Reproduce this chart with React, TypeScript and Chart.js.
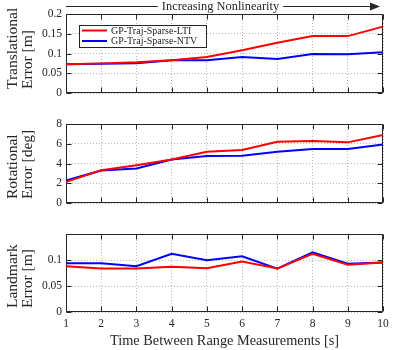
import React, { useEffect, useRef } from 'react';
import { Chart, registerables } from 'chart.js';

Chart.register(...registerables);

// ---------------- data ----------------
const xLabels = ['1', '2', '3', '4', '5', '6', '7', '8', '9', '10'];
const seriesNames = ['GP-Traj-Sparse-LTI', 'GP-Traj-Sparse-NTV'];
const seriesColors = ['#ff0000', '#0000ff'];

const transLTI = [0.073, 0.075, 0.078, 0.083, 0.091, 0.108, 0.127, 0.144, 0.144, 0.168];
const transNTV = [0.073, 0.074, 0.075, 0.083, 0.083, 0.091, 0.086, 0.099, 0.098, 0.103];

const rotLTI = [2.14, 3.32, 3.83, 4.4, 5.19, 5.36, 6.2, 6.27, 6.14, 6.88];
const rotNTV = [2.27, 3.29, 3.49, 4.4, 4.75, 4.78, 5.19, 5.46, 5.46, 5.93];

const lmLTI = [0.088, 0.0835, 0.0835, 0.087, 0.084, 0.097, 0.0835, 0.112, 0.091, 0.095];
const lmNTV = [0.0936, 0.0936, 0.088, 0.112, 0.0994, 0.107, 0.0835, 0.1146, 0.093, 0.095];

const transTitle = ['Translational', 'Error [m]'];
const rotTitle = ['Rotational', 'Error [deg]'];
const lmTitle = ['Landmark', 'Error [m]'];
const xTitleText = 'Time Between Range Measurements [s]';
const annotationText = 'Increasing Nonlinearity';

// ---------------- style ----------------
const FONT = "'Liberation Serif', 'Times New Roman', serif";
const INK = '#262626';
const GRID = '#b8b8b8';
const PLOT_LEFT = 66;
const PLOT_RIGHT = 383;
const W = 399;

type PanelSpec = {
  top: number;
  height: number;
  plotTop: number;
  plotHeight: number;
  lti: number[];
  ntv: number[];
  yMax: number;
  yStep: number;
  hideTopTick?: boolean;
  yTitle: string[];
  showXTicks: boolean;
  xTitle?: string;
  legend?: boolean;
  annotation?: string;
};

const fmt = (v: number) => String(Number(v.toFixed(4)));

const framePlugin = {
  id: 'frame',
  beforeDatasetsDraw(chart: any) {
    const { ctx, chartArea: a, scales } = chart;
    ctx.save();
    ctx.strokeStyle = INK;
    ctx.lineWidth = 1;
    const L = Math.round(a.left) + 0.5;
    const R = Math.round(a.right) - 0.5;
    const T = Math.round(a.top) + 0.5;
    const B = Math.round(a.bottom) - 0.5;
    ctx.beginPath();
    ctx.rect(L, T, R - L, B - T);
    ctx.stroke();
    const tl = 5;
    ctx.beginPath();
    scales.x.ticks.forEach((_t: any, i: number) => {
      const px = Math.round(scales.x.getPixelForTick(i)) + 0.5;
      ctx.moveTo(px, B);
      ctx.lineTo(px, B - tl);
      ctx.moveTo(px, T);
      ctx.lineTo(px, T + tl);
    });
    scales.y.ticks.forEach((_t: any, i: number) => {
      const py = Math.round(scales.y.getPixelForTick(i)) + 0.5;
      ctx.moveTo(L, py);
      ctx.lineTo(L + tl, py);
      ctx.moveTo(R, py);
      ctx.lineTo(R - tl, py);
    });
    ctx.stroke();
    ctx.restore();
  },
};

function makeTextPlugin(spec: PanelSpec) {
  return {
    id: 'texts',
    afterDraw(chart: any) {
      const { ctx, chartArea: a } = chart;
      ctx.save();
      ctx.fillStyle = INK;
      // y title (two lines, left-aligned in rotated frame)
      ctx.font = `15.5px ${FONT}`;
      ctx.textBaseline = 'middle';
      ctx.textAlign = 'left';
      const xs = [13, 28];
      spec.yTitle.forEach((line, i) => {
        ctx.save();
        ctx.translate(xs[i], a.bottom - 4);
        ctx.rotate(-Math.PI / 2);
        ctx.fillText(line, 0, 0);
        ctx.restore();
      });
      if (spec.xTitle) {
        ctx.font = `14.3px ${FONT}`;
        ctx.textAlign = 'center';
        ctx.textBaseline = 'middle';
        ctx.fillText(spec.xTitle, (a.left + a.right) / 2, a.bottom + 29);
      }
      if (spec.annotation) {
        const cy = 6.5;
        ctx.font = `12.4px ${FONT}`;
        ctx.textAlign = 'center';
        ctx.textBaseline = 'middle';
        const cx = (a.left + a.right) / 2 - 4;
        const tw = ctx.measureText(spec.annotation).width;
        ctx.fillText(spec.annotation, cx, cy);
        const tip = a.right - 3;
        ctx.strokeStyle = INK;
        ctx.lineWidth = 1;
        ctx.beginPath();
        ctx.moveTo(a.left, cy);
        ctx.lineTo(cx - tw / 2 - 4, cy);
        ctx.moveTo(cx + tw / 2 + 4, cy);
        ctx.lineTo(tip - 8, cy);
        ctx.stroke();
        ctx.beginPath();
        ctx.moveTo(tip, cy);
        ctx.lineTo(tip - 10, cy - 4);
        ctx.lineTo(tip - 10, cy + 4);
        ctx.closePath();
        ctx.fill();
      }
      if (spec.legend) {
        const bx = a.left + 13;
        const by = a.top + 11;
        const bw = 127;
        const bh = 22;
        ctx.fillStyle = '#ffffff';
        ctx.fillRect(bx, by, bw, bh);
        ctx.strokeStyle = INK;
        ctx.lineWidth = 1;
        ctx.strokeRect(Math.round(bx) + 0.5, Math.round(by) + 0.5, bw, bh);
        ctx.font = `10px ${FONT}`;
        ctx.textAlign = 'left';
        ctx.textBaseline = 'middle';
        chart.data.datasets.forEach((ds: any, i: number) => {
          const ly = by + 5.5 + i * 10.5;
          ctx.strokeStyle = ds.borderColor;
          ctx.lineWidth = 2;
          ctx.beginPath();
          ctx.moveTo(bx + 3, ly);
          ctx.lineTo(bx + 28, ly);
          ctx.stroke();
          ctx.fillStyle = INK;
          ctx.fillText(ds.label, bx + 32, ly + 0.5);
        });
      }
      ctx.restore();
    },
  };
}

function Panel({ spec }: { spec: PanelSpec }) {
  const ref = useRef<HTMLCanvasElement | null>(null);
  useEffect(() => {
    if (!ref.current) return;
    const xh = spec.height - spec.plotTop - spec.plotHeight;
    const chart = new Chart(ref.current, {
      type: 'line',
      data: {
        labels: xLabels,
        datasets: [
          {
            label: seriesNames[0],
            data: spec.lti,
            borderColor: seriesColors[0],
            backgroundColor: seriesColors[0],
            borderWidth: 2,
            pointRadius: 0,
            tension: 0,
          },
          {
            label: seriesNames[1],
            data: spec.ntv,
            borderColor: seriesColors[1],
            backgroundColor: seriesColors[1],
            borderWidth: 2,
            pointRadius: 0,
            tension: 0,
          },
        ],
      },
      options: {
        responsive: false,
        animation: false,
        devicePixelRatio: 1,
        events: [],
        layout: { padding: { left: 0, right: W - PLOT_RIGHT, top: spec.plotTop, bottom: 0 } },
        plugins: { legend: { display: false }, tooltip: { enabled: false }, title: { display: false } },
        scales: {
          x: {
            type: 'category',
            offset: false,
            grid: { display: true, color: GRID, drawTicks: false, lineWidth: 1 },
            border: { display: false, dash: [1, 2] },
            ticks: {
              display: spec.showXTicks,
              color: INK,
              padding: 5,
              maxRotation: 0,
              autoSkip: false,
              font: { family: FONT, size: 11.5 },
            },
            afterFit: (s: any) => {
              s.height = xh;
              s.paddingLeft = 0;
              s.paddingRight = 0;
            },
          },
          y: {
            type: 'linear',
            min: 0,
            max: spec.yMax,
            grid: { display: true, color: GRID, drawTicks: false, lineWidth: 1 },
            border: { display: false, dash: [1, 2] },
            ticks: {
              stepSize: spec.yStep,
              color: INK,
              padding: 4,
              font: { family: FONT, size: 11.5 },
              callback: (v: any) => {
                const n = Number(v);
                if (spec.hideTopTick && Math.abs(n - spec.yMax) < 1e-9) return '';
                return fmt(n);
              },
            },
            afterFit: (s: any) => {
              s.width = PLOT_LEFT;
              s.paddingTop = 0;
              s.paddingBottom = 0;
            },
          },
        },
      },
      plugins: [framePlugin, makeTextPlugin(spec)],
    } as any);
    return () => chart.destroy();
  }, [spec]);
  return (
    <canvas
      ref={ref}
      width={W}
      height={spec.height}
      style={{ position: 'absolute', left: 0, top: spec.top, width: W, height: spec.height, display: 'block' }}
    />
  );
}

const panels: PanelSpec[] = [
  {
    top: 0,
    height: 100,
    plotTop: 14,
    plotHeight: 79,
    lti: transLTI,
    ntv: transNTV,
    yMax: 0.2,
    yStep: 0.05,
    yTitle: transTitle,
    showXTicks: false,
    legend: true,
    annotation: annotationText,
  },
  {
    top: 110,
    height: 100,
    plotTop: 14,
    plotHeight: 79,
    lti: rotLTI,
    ntv: rotNTV,
    yMax: 8,
    yStep: 2,
    yTitle: rotTitle,
    showXTicks: false,
  },
  {
    top: 220,
    height: 130,
    plotTop: 14,
    plotHeight: 78,
    lti: lmLTI,
    ntv: lmNTV,
    yMax: 0.15,
    yStep: 0.05,
    hideTopTick: true,
    yTitle: lmTitle,
    showXTicks: true,
    xTitle: xTitleText,
  },
];

export default function App() {
  return (
    <div style={{ position: 'absolute', left: 0, top: 0, width: W, height: 350, background: '#fff' }}>
      {panels.map((p, i) => (
        <Panel key={i} spec={p} />
      ))}
    </div>
  );
}
